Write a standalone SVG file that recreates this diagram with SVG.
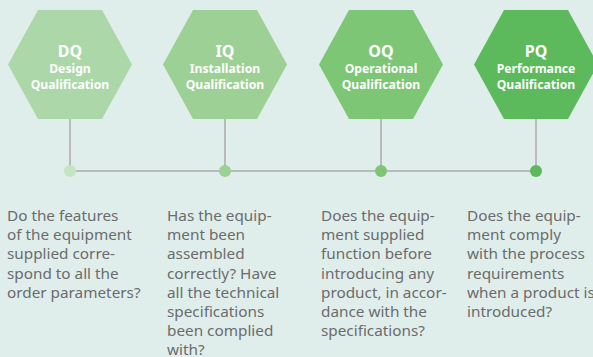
<svg xmlns="http://www.w3.org/2000/svg" width="593" height="357" viewBox="0 0 593 357">
<style>
.hex-t{font-family:"Noto Sans","Open Sans",sans-serif;font-weight:bold;fill:#fff;text-anchor:middle}
.big{font-size:16px}
.sm{font-size:12.2px}
.body{font-family:"Noto Sans","Open Sans",sans-serif;font-size:15.3px;fill:#6b6b6b}
.ln{stroke:#aaaaaa;stroke-width:1.5;fill:none}
</style>
<rect width="593" height="357" fill="#e0eeeb"/>
<g id="connectors">
<line class="ln" x1="70" y1="171" x2="536" y2="171"/>
<line class="ln" x1="70" y1="119" x2="70" y2="171"/>
<line class="ln" x1="225" y1="119" x2="225" y2="171"/>
<line class="ln" x1="381" y1="119" x2="381" y2="171"/>
<line class="ln" x1="536" y1="119" x2="536" y2="171"/>
<circle cx="70" cy="171" r="6" fill="#c6e3c2"/>
<circle cx="225" cy="171" r="6" fill="#9dd094"/>
<circle cx="381" cy="171" r="6" fill="#7cc676"/>
<circle cx="536" cy="171" r="6" fill="#5cb95c"/>
</g>
<g id="dq">
<polygon points="8,64.5 38,10 102,10 132,64.5 102,119 38,119" fill="#acd7a8"/>
<text class="hex-t big" x="70" y="57">DQ</text>
<text class="hex-t sm" x="70" y="73">Design</text>
<text class="hex-t sm" x="70" y="89">Qualification</text>
</g>
<g id="iq">
<polygon points="163,64.5 193,10 257,10 287,64.5 257,119 193,119" fill="#9dd094"/>
<text class="hex-t big" x="225" y="57">IQ</text>
<text class="hex-t sm" x="225" y="73">Installation</text>
<text class="hex-t sm" x="225" y="89">Qualification</text>
</g>
<g id="oq">
<polygon points="319,64.5 349,10 413,10 443,64.5 413,119 349,119" fill="#7cc676"/>
<text class="hex-t big" x="381" y="57">OQ</text>
<text class="hex-t sm" x="381" y="73">Operational</text>
<text class="hex-t sm" x="381" y="89">Qualification</text>
</g>
<g id="pq">
<polygon points="474,64.5 504,10 568,10 598,64.5 568,119 504,119" fill="#5cb95c"/>
<text class="hex-t big" x="536" y="57">PQ</text>
<text class="hex-t sm" x="536" y="73">Performance</text>
<text class="hex-t sm" x="536" y="89">Qualification</text>
</g>
<g id="dq-text" class="body">
<text x="7" y="221">Do the features</text>
<text x="7" y="240.2">of the equipment</text>
<text x="7" y="259.4">supplied corre-</text>
<text x="7" y="278.6">spond to all the</text>
<text x="7" y="297.8">order parameters?</text>
</g>
<g id="iq-text" class="body">
<text x="167" y="221">Has the equip-</text>
<text x="167" y="240.2">ment been</text>
<text x="167" y="259.4">assembled</text>
<text x="167" y="278.6">correctly? Have</text>
<text x="167" y="297.8">all the technical</text>
<text x="167" y="317">specifications</text>
<text x="167" y="336.2">been complied</text>
<text x="167" y="355">with?</text>
</g>
<g id="oq-text" class="body">
<text x="321" y="221">Does the equip-</text>
<text x="321" y="240.2">ment supplied</text>
<text x="321" y="259.4">function before</text>
<text x="321" y="278.6">introducing any</text>
<text x="321" y="297.8">product, in accor-</text>
<text x="321" y="317">dance with the</text>
<text x="321" y="336.2">specifications?</text>
</g>
<g id="pq-text" class="body">
<text x="467" y="221">Does the equip-</text>
<text x="467" y="240.2">ment comply</text>
<text x="467" y="259.4">with the process</text>
<text x="467" y="278.6">requirements</text>
<text x="467" y="297.8">when a product is</text>
<text x="467" y="317">introduced?</text>
</g>
</svg>
